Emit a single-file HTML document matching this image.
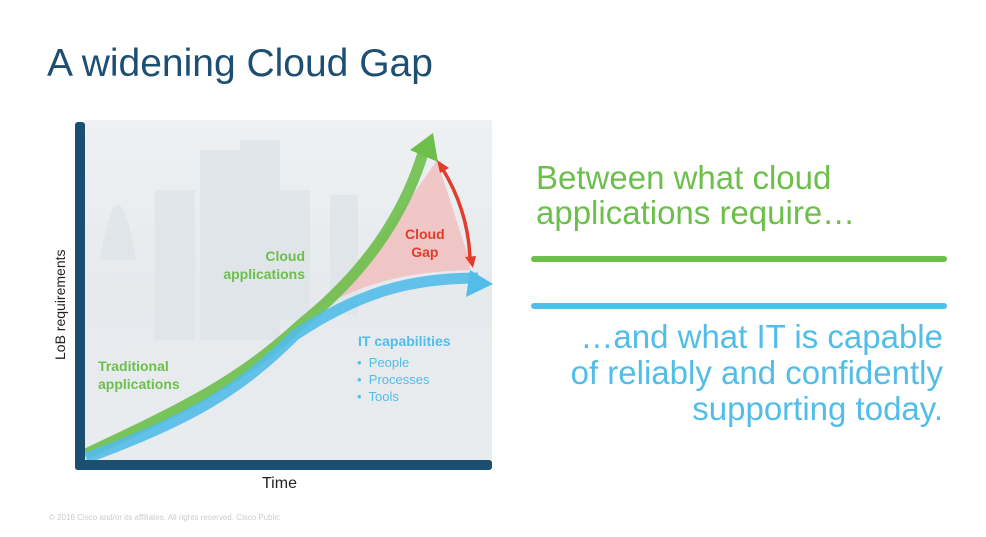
<!DOCTYPE html>
<html><head><style>
body{margin:0;width:986px;height:537px;background:#fff;overflow:hidden;position:relative;font-family:"Liberation Sans",sans-serif}
.t{position:absolute;white-space:nowrap}
</style></head><body>
<div class="t" style="left:47px;top:42px;font-size:39px;color:#1d4f73">A widening Cloud Gap</div>
<svg style="position:absolute;left:0;top:0" width="986" height="537">
<defs><linearGradient id="bg" x1="0" y1="0" x2="0" y2="1"><stop offset="0" stop-color="#eef1f3"/><stop offset="0.5" stop-color="#e6eaed"/><stop offset="1" stop-color="#e9ecef"/></linearGradient></defs>
<rect x="85" y="120" width="407" height="342" fill="url(#bg)"/>
<g fill="#dde3e8" opacity="0.7">
<rect x="155" y="190" width="40" height="150"/><rect x="200" y="150" width="45" height="190"/><rect x="240" y="140" width="40" height="200"/><rect x="280" y="190" width="30" height="130"/><rect x="330" y="195" width="28" height="120"/>
<path d="M100 260 Q118 150 136 260 Z"/>
</g>
<path d="M300 318 C350 290 390 272 470 270 L470 262 L437 160 C410 200 360 270 300 318Z" fill="#f2b8b8" opacity="0.75"/>
<path d="M86 454 C190 405 240 380 300 325 C350 285 400 230 424 150" stroke="#6dbf4b" stroke-width="11" fill="none" opacity="0.9"/>
<polygon points="433,133 438,162 410,150" fill="#6dbf4b"/>
<path d="M86 458 C190 420 240 390 295 335 C360 292 410 278 478 278" stroke="#52bde8" stroke-width="11" fill="none" opacity="0.9"/>
<polygon points="493,284 466,297 470,270" fill="#52bde8"/>
<path d="M442 168 Q468 210 470 258" stroke="#e23c2b" stroke-width="3.5" fill="none"/>
<polygon points="437,160 449,168 440,173" fill="#e23c2b"/>
<polygon points="473,268 465,257 476,256" fill="#e23c2b"/>
<rect x="75" y="122" width="10" height="348" rx="3" fill="#1c4e6f"/>
<rect x="75" y="460" width="417" height="10" rx="3" fill="#1c4e6f"/>
<rect x="531" y="256" width="416" height="6" rx="3" fill="#6dbf4b"/>
<rect x="531" y="303" width="416" height="6" rx="3" fill="#52bde8"/>
</svg>
<div class="t" style="right:681px;top:247px;font-size:14px;font-weight:bold;color:#6dbf4b;text-align:right;line-height:18px">Cloud<br>applications</div>
<div class="t" style="left:98px;top:357px;font-size:14px;font-weight:bold;color:#6dbf4b;line-height:18px">Traditional<br>applications</div>
<div class="t" style="left:405px;top:225px;font-size:14px;font-weight:bold;color:#e23c2b;text-align:center;line-height:18px">Cloud<br>Gap</div>
<div class="t" style="left:358px;top:333px;font-size:14px;font-weight:bold;color:#52bde8">IT capabilities</div>
<div class="t" style="left:357px;top:354px;font-size:13px;color:#52bde8;line-height:17px">•&nbsp; People<br>•&nbsp; Processes<br>•&nbsp; Tools</div>
<div class="t" style="font-size:14px;color:#222;transform:rotate(-90deg);transform-origin:0 0;top:360px;left:52px">LoB requirements</div>
<div class="t" style="left:262px;top:475px;font-size:16px;color:#222">Time</div>
<div class="t" style="left:536px;top:160px;font-size:33px;color:#6dbf4b;line-height:35px">Between what cloud<br>applications require…</div>
<div class="t" style="right:43px;top:319px;font-size:33px;color:#52bde8;line-height:36px;text-align:right">…and what IT is capable<br>of reliably and confidently<br>supporting today.</div>
<div class="t" style="left:49px;top:513px;font-size:8px;color:#ccc">© 2016  Cisco and/or its affiliates. All rights reserved.    Cisco Public</div>
</body></html>
